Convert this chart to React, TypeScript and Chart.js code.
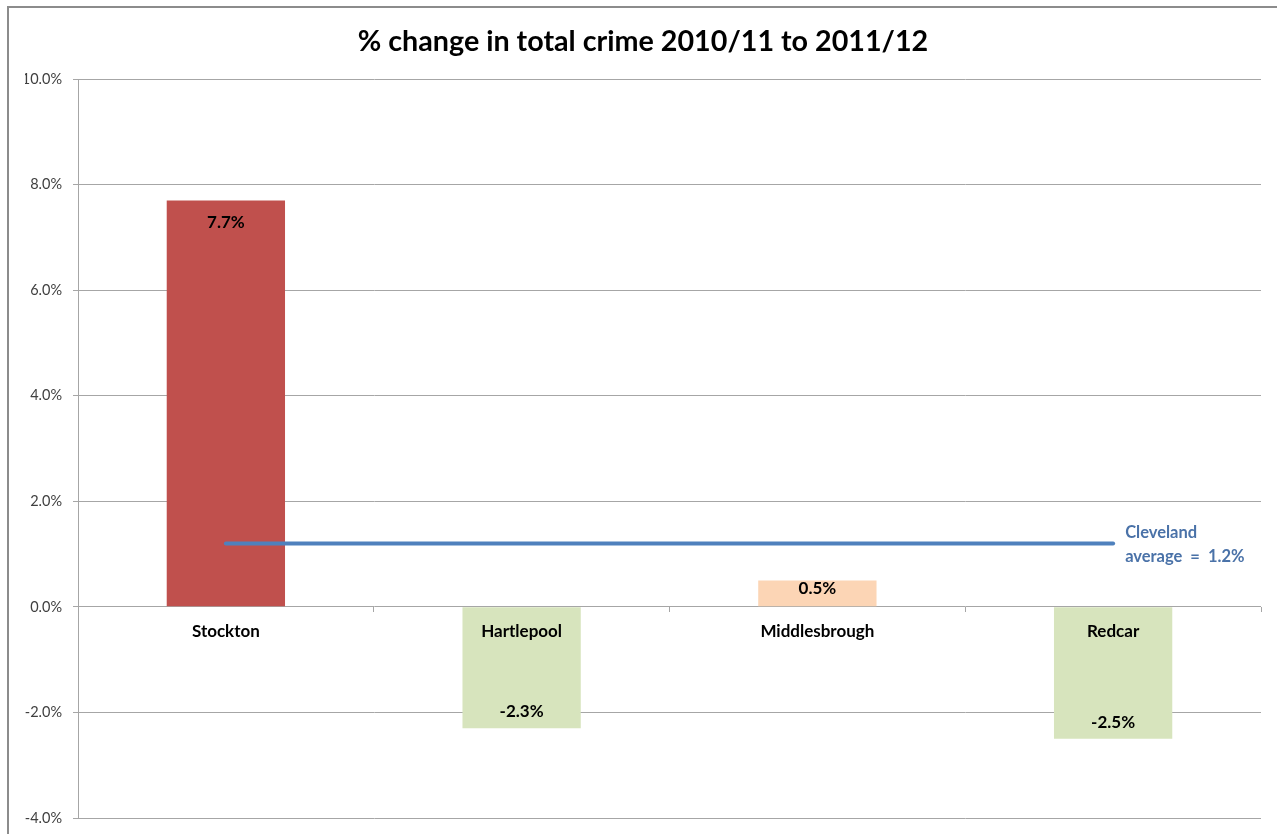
import { useEffect, useRef } from 'react';
import { Chart, registerables } from 'chart.js';

Chart.register(...registerables);

const areas = ['Stockton', 'Hartlepool', 'Middlesbrough', 'Redcar'];
const changes = [7.7, -2.3, 0.5, -2.5];
const barColours = ['#C0504D', '#D7E4BD', '#FCD5B5', '#D7E4BD'];
const clevelandAverage = [1.2, 1.2, 1.2, 1.2];
const averageLabel = ['Cleveland', 'average  =  1.2%'];

const FONT = 'Lato, "Open Sans", sans-serif';
const pct = (v: number) => v.toFixed(1) + '%';

// outer chart frame, like the Excel chart border
const framePlugin = {
  id: 'frame',
  beforeDraw(chart: Chart) {
    const { ctx } = chart;
    ctx.save();
    ctx.strokeStyle = '#8c8c8c';
    ctx.lineWidth = 2;
    ctx.strokeRect(8, 7, chart.width + 50, chart.height + 50);
    ctx.restore();
  },
};

const barLabelPlugin = {
  id: 'barLabels',
  afterDatasetsDraw(chart: Chart) {
    const { ctx } = chart;
    const meta = chart.getDatasetMeta(0);
    ctx.save();
    ctx.font = `bold 17px ${FONT}`;
    ctx.fillStyle = '#000';
    ctx.textAlign = 'center';
    ctx.textBaseline = 'middle';
    meta.data.forEach((bar, i) => {
      const { x, y, base } = bar.getProps(['x', 'y', 'base'], true) as any;
      const h = Math.abs(base - y);
      // inside end; short bars keep the label near the top
      const ty = changes[i] >= 0 ? y + (h > 44 ? 22 : h * 0.32) : y - 16.5;
      ctx.fillText(pct(changes[i]), x, ty);
    });

    // average line label
    const line = chart.getDatasetMeta(1);
    const last = line.data[line.data.length - 1];
    ctx.font = `bold 16.5px ${FONT}`;
    ctx.fillStyle = '#4A72A8';
    ctx.textAlign = 'left';
    ctx.fillText(averageLabel[0], last.x + 12, last.y - 11);
    ctx.fillText(averageLabel[1], last.x + 12, last.y + 13);
    ctx.restore();
  },
};

export default function App() {
  const canvasRef = useRef<HTMLCanvasElement>(null);
  const chartRef = useRef<Chart | null>(null);

  useEffect(() => {
    if (!canvasRef.current) return;
    if (chartRef.current) chartRef.current.destroy();

    chartRef.current = new Chart(canvasRef.current, {
      type: 'bar',
      data: {
        labels: areas,
        datasets: [
          {
            type: 'bar',
            data: changes,
            backgroundColor: barColours,
            borderWidth: 0,
            barPercentage: 0.4,
            categoryPercentage: 1,
            order: 2,
          },
          {
            type: 'line',
            data: clevelandAverage,
            borderColor: '#4F81BD',
            borderWidth: 4,
            borderCapStyle: 'round',
            pointRadius: 0,
            order: 1,
          } as any,
        ],
      },
      options: {
        responsive: false,
        animation: false,
        layout: { padding: { left: 25, right: 16, top: 0, bottom: 16 } },
        plugins: {
          legend: { display: false },
          tooltip: { enabled: false },
          title: {
            display: true,
            text: '% change in total crime 2010/11 to 2011/12',
            color: '#000',
            font: { family: FONT, size: 28.7, weight: 'bold' },
            padding: { top: 25, bottom: 19.6 },
          },
        },
        scales: {
          x: {
            position: { y: 0 } as any,
            offset: true,
            border: { display: false },
            grid: {
              offset: true,
              drawOnChartArea: false,
              drawTicks: true,
              tickLength: 5,
              color: '#a6a6a6',
            },
            ticks: {
              z: 1,
              color: '#000',
              padding: 9,
              autoSkip: false,
              maxRotation: 0,
              font: { family: FONT, size: 17, weight: 'bold' },
            },
          },
          y: {
            min: -4,
            max: 10,
            afterFit: (scale: any) => {
              scale.width = 53;
              scale.paddingTop = 0;
              scale.paddingBottom = 0;
            },
            border: { display: true, color: '#a6a6a6' },
            grid: { color: '#a6a6a6', tickLength: 5 },
            ticks: {
              stepSize: 2,
              color: '#404040',
              padding: 11,
              font: { family: FONT, size: 14.5 },
              callback: (v: any) => pct(Number(v)),
            },
          },
        },
      },
      plugins: [framePlugin, barLabelPlugin],
    });

    return () => {
      if (chartRef.current) {
        chartRef.current.destroy();
        chartRef.current = null;
      }
    };
  }, []);

  return (
    <div style={{ position: 'absolute', left: 0, top: 0, width: 1277, height: 834, background: '#fff' }}>
      <canvas ref={canvasRef} width={1277} height={834}></canvas>
    </div>
  );
}
